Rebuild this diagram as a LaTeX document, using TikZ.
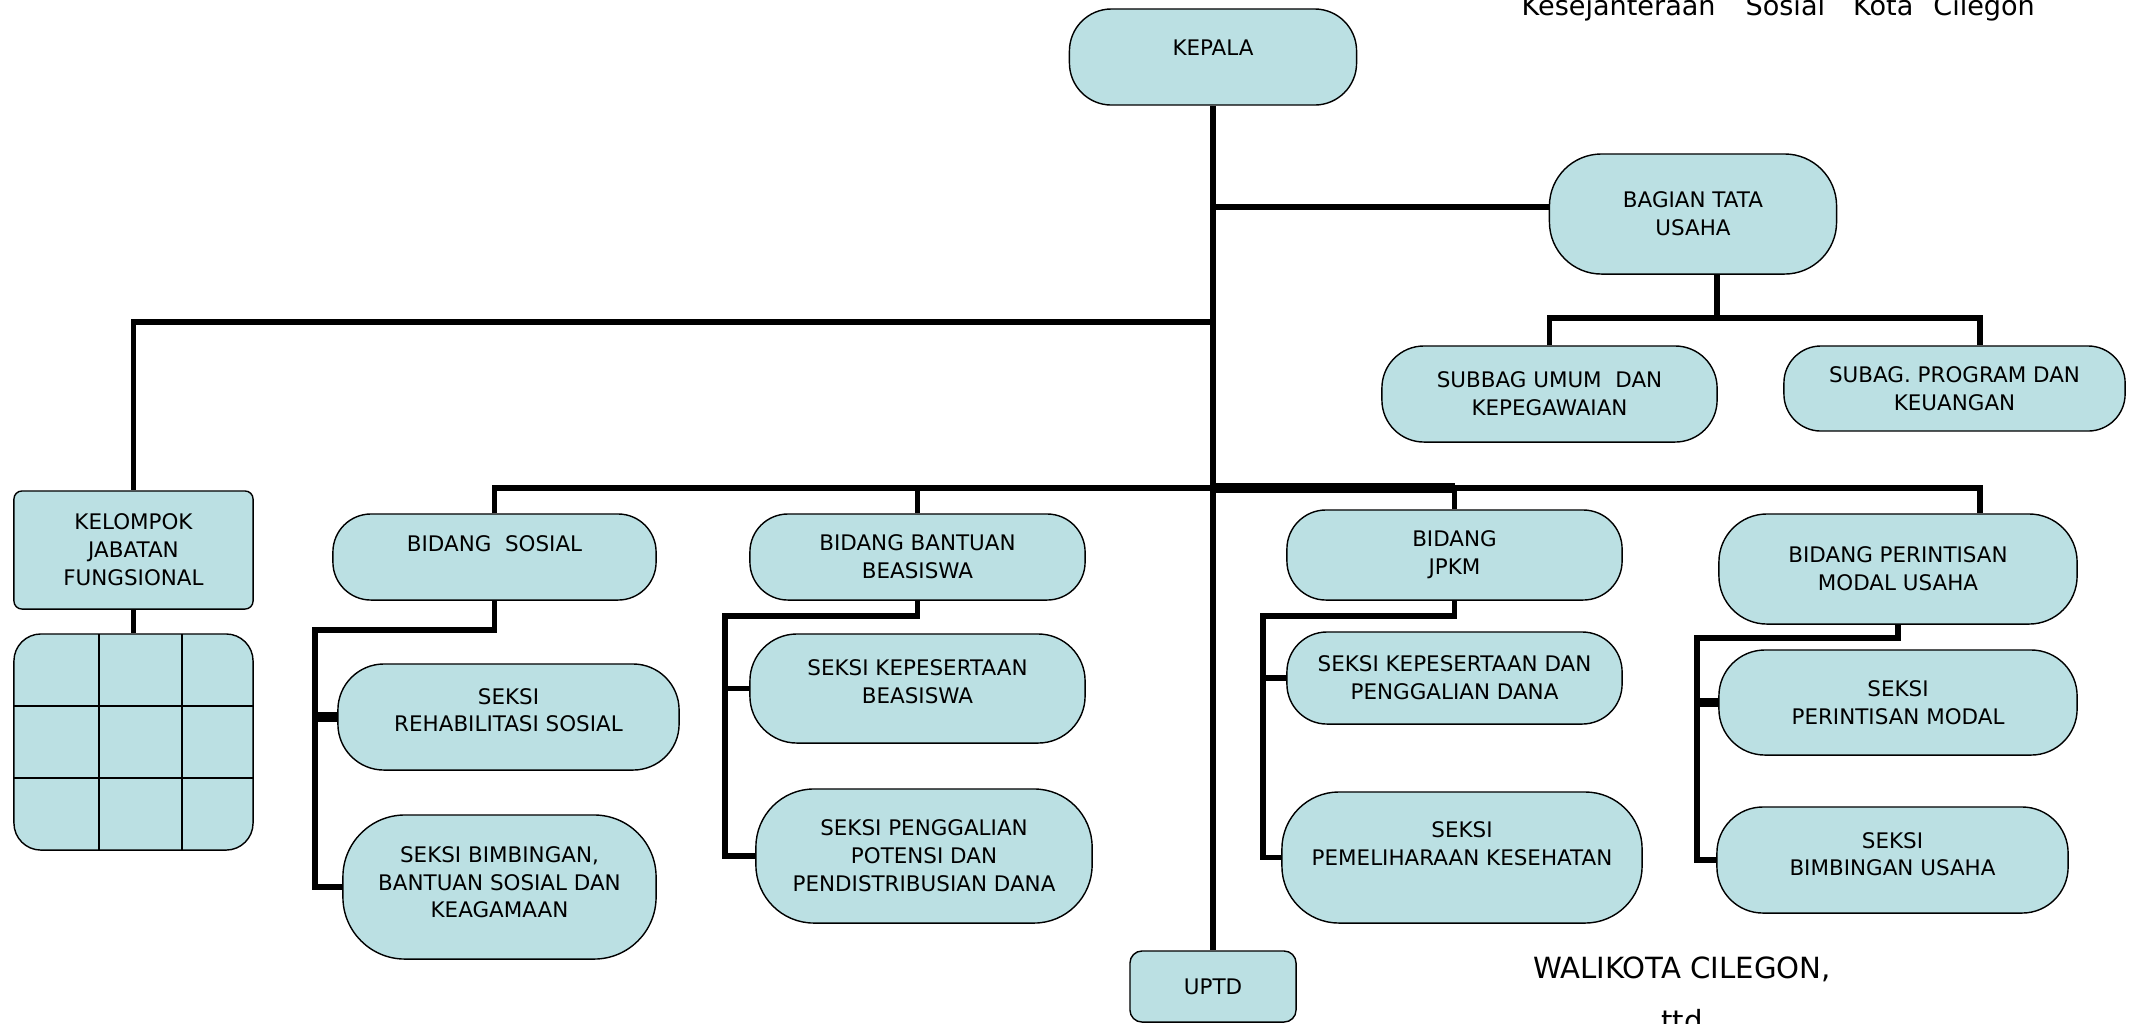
\documentclass[tikz,border=0pt]{standalone}
\usepackage{fontspec}
\setmainfont{DejaVu Sans}
\definecolor{boxfill}{RGB}{187,224,227}
\newcommand{\boxfont}{\fontsize{6.1pt}{7.95pt}\selectfont}

\begin{document}
\begin{tikzpicture}[x=0.01cm, y=-0.01cm,
    orgbox/.style={draw, fill=boxfill, line width=0.4pt, rounded corners=#1, align=center, font=\boxfont, inner sep=0pt},
    link/.style={line width=1.6pt},
    boldlink/.style={line width=2.6pt}]
    \useasboundingbox (0,0) rectangle (2137,1023);

    % boxes
    \node[orgbox=0.42cm, minimum width=2.87cm, minimum height=0.96cm] (kepala) at (1213,57) {KEPALA\\[-0.1cm]\mbox{}};
    \node[orgbox=0.52cm, minimum width=2.87cm, minimum height=1.20cm] (tatausaha) at (1693,214) {BAGIAN TATA\\USAHA};
    \node[orgbox=0.42cm, minimum width=3.35cm, minimum height=0.96cm] (subbagumum) at (1549.5,394) {SUBBAG UMUM~ DAN\\KEPEGAWAIAN};
    \node[orgbox=0.37cm, minimum width=3.41cm, minimum height=0.85cm] (subagprog) at (1954.5,388.5) {SUBAG. PROGRAM DAN\\KEUANGAN};
    \node[orgbox=0.08cm, minimum width=2.39cm, minimum height=1.18cm] (kelompok) at (133.5,550) {KELOMPOK\\JABATAN\\FUNGSIONAL};
    \node[orgbox=0.27cm, minimum width=2.39cm, minimum height=2.16cm] (jabgrid) at (133.5,742) {};
    \node[orgbox=0.38cm, minimum width=3.23cm, minimum height=0.86cm] (sosial) at (494.5,557) {BIDANG~ SOSIAL\\\mbox{}};
    \node[orgbox=0.38cm, minimum width=3.35cm, minimum height=0.86cm] (beasiswa) at (917.5,557) {BIDANG BANTUAN\\BEASISWA};
    \node[orgbox=0.39cm, minimum width=3.35cm, minimum height=0.90cm] (jpkm) at (1454.5,555) {BIDANG\\JPKM};
    \node[orgbox=0.48cm, minimum width=3.58cm, minimum height=1.10cm] (perintisan) at (1898,569) {BIDANG PERINTISAN\\MODAL USAHA};
    \node[orgbox=0.46cm, minimum width=3.41cm, minimum height=1.06cm] (rehab) at (508.5,717) {SEKSI\\REHABILITASI SOSIAL\\[-0.14cm]\mbox{}};
    \node[orgbox=0.62cm, minimum width=3.13cm, minimum height=1.44cm] (bimbingan) at (499.5,887) {SEKSI BIMBINGAN,\\BANTUAN SOSIAL DAN\\KEAGAMAAN\\[-0.18cm]\mbox{}};
    \node[orgbox=0.47cm, minimum width=3.35cm, minimum height=1.09cm] (kepbeasiswa) at (917.5,688.5) {SEKSI KEPESERTAAN\\BEASISWA\\[-0.14cm]\mbox{}};
    \node[orgbox=0.58cm, minimum width=3.36cm, minimum height=1.34cm] (penggalian) at (924,856) {SEKSI PENGGALIAN\\POTENSI DAN\\PENDISTRIBUSIAN DANA};
    \node[orgbox=0.40cm, minimum width=3.35cm, minimum height=0.92cm] (kepdana) at (1454.5,678) {SEKSI KEPESERTAAN DAN\\PENGGALIAN DANA};
    \node[orgbox=0.57cm, minimum width=3.60cm, minimum height=1.31cm] (pemeliharaan) at (1462,857.5) {SEKSI\\PEMELIHARAAN KESEHATAN\\\mbox{}};
    \node[orgbox=0.46cm, minimum width=3.58cm, minimum height=1.05cm] (modal) at (1898,702.5) {SEKSI\\PERINTISAN MODAL};
    \node[orgbox=0.46cm, minimum width=3.51cm, minimum height=1.06cm] (usaha) at (1892.5,860) {SEKSI\\BIMBINGAN USAHA\\[-0.16cm]\mbox{}};
    \node[orgbox=0.12cm, minimum width=1.66cm, minimum height=0.71cm] (uptd) at (1213,986.5) {UPTD};

    % grid inside the empty box
    \foreach \gx in {99,182} \draw[line width=0.6pt] (\gx,634) -- (\gx,850);
    \foreach \gy in {706,778} \draw[line width=0.6pt] (14,\gy) -- (253,\gy);

    % junctions
    \coordinate (tuconn) at ([yshift=0.07cm]tatausaha.west);
    \coordinate (jabbar) at (1213,322);
    \coordinate (tuhub) at (1717,318);
    \coordinate (progdrop) at (1980,318);
    \coordinate (bidbar) at (1213,488);
    \coordinate (perdrop) at (1980,488);
    \coordinate (soshub) at (315,630);
    \coordinate (beahub) at (725,616);
    \coordinate (jpkmhub) at (1263,616);
    \coordinate (perhub) at (1697,638);

    % connectors
    \draw[link] (kepala.south) -- (uptd.north);
    \draw[link] (kepala.south |- tuconn) -- (tuconn);
    \draw[link] (jabbar) -| (kelompok.north);
    \draw[link] (kelompok.south) -- (jabgrid.north);
    \draw[link] (tatausaha.south -| tuhub) -- (tuhub);
    \draw[link] (subbagumum.north) |- (progdrop) -- (subagprog.north -| progdrop);

    \draw[link] (sosial.north) |- (bidbar);
    \draw[link] (beasiswa.north) -- (beasiswa.north |- bidbar);
    \draw[link] (jpkm.north) -- (jpkm.north |- bidbar);
    \draw[link] (bidbar) -- (perdrop) -- (perintisan.north -| perdrop);
    \draw[boldlink] (bidbar) -- (bidbar -| jpkm.north);

    \draw[link] (sosial.south) |- (soshub) |- (bimbingan.west);
    \draw[boldlink] (soshub |- rehab.west) -- (rehab.west);
    \draw[link] (beasiswa.south) |- (beahub) |- (penggalian.west);
    \draw[link] (beahub |- kepbeasiswa.west) -- (kepbeasiswa.west);
    \draw[link] (jpkm.south) |- (jpkmhub) |- (pemeliharaan.west);
    \draw[link] (jpkmhub |- kepdana.west) -- (kepdana.west);
    \draw[link] (perintisan.south) |- (perhub) |- (usaha.west);
    \draw[boldlink] (perhub |- modal.west) -- (modal.west);

    % loose texts
    \node[anchor=base west, inner sep=0pt, font=\fontsize{7.7pt}{9pt}\selectfont] (judul) at (1521,15) {Kesejanteraan\hspace{0.30cm}Sosial\hspace{0.28cm}Kota\hspace{0.20cm}Cilegon};
    \node[anchor=base, inner sep=0pt, font=\fontsize{8.3pt}{10pt}\selectfont] (walikota) at (1682,978) {WALIKOTA CILEGON,};
    \node[anchor=base, inner sep=0pt, font=\fontsize{8.3pt}{10pt}\selectfont] (ttd) at (1682,1031) {ttd};
\end{tikzpicture}
\end{document}
